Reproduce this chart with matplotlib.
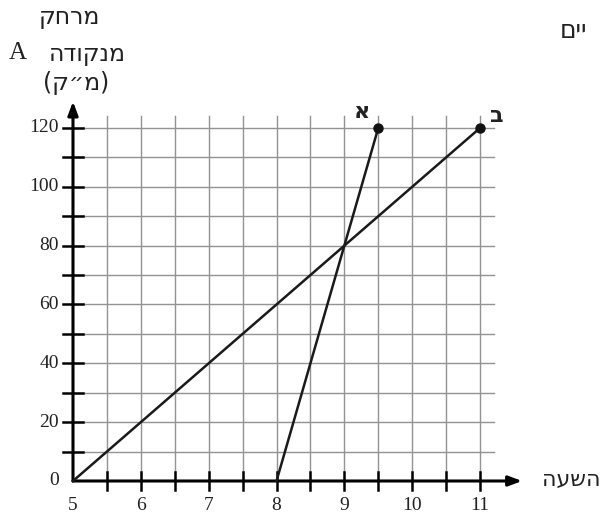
import matplotlib
matplotlib.use("Agg")
import matplotlib.pyplot as plt
import numpy as np

# hours and distance from point A for the two travellers
hours_a = [8, 9.5]
dist_a = [0, 120]
hours_b = [5, 11]
dist_b = [0, 120]

x_ticks = [5, 6, 7, 8, 9, 10, 11]
y_ticks = [0, 20, 40, 60, 80, 100, 120]
x_grid = np.arange(5.5, 11.01, 0.5)
y_grid = np.arange(10, 121, 10)


def rtl(s):
    # matplotlib lays text out left to right, so flip Hebrew words
    return s[::-1]


heb = ["DejaVu Sans"]
serif = ["Liberation Serif", "DejaVu Serif"]
ink = "#222222"

fig = plt.figure(figsize=(6.03, 5.20), dpi=100)
ax = fig.add_axes([0, 0, 1, 1])
ax.set_xlim(3.924, 12.813)
ax.set_ylim(-13.26, 163.51)
ax.axis("off")

grid_kw = dict(color="#939393", lw=1.0, zorder=1)
for gx in x_grid:
    ax.plot([gx, gx], [0, 124], **grid_kw)
for gy in y_grid:
    ax.plot([5, 11.2], [gy, gy], **grid_kw)

# axes with arrow heads
arrow = dict(arrowstyle="-|>,head_length=0.8,head_width=0.3",
             color="black", lw=2.2, shrinkA=0, shrinkB=0)
ax.annotate("", xy=(11.62, 0), xytext=(5, 0), arrowprops=arrow, zorder=3)
ax.annotate("", xy=(5, 129), xytext=(5, 0), arrowprops=arrow, zorder=3)

for tx in x_grid:
    ax.plot([tx, tx], [-3.1, 3.1], color="black", lw=1.8, zorder=3)
for ty in y_grid:
    ax.plot([4.85, 5.15], [ty, ty], color="black", lw=1.8, zorder=3)

for tx in x_ticks:
    ax.text(tx, -8.3, str(tx), ha="center", va="center",
            fontsize=14, family=serif, color=ink)
for ty in y_ticks:
    ax.text(4.79, ty, str(ty), ha="right", va="center",
            fontsize=14, family=serif, color=ink)

# the two travel lines
ax.plot(hours_a, dist_a, color="#1a1a1a", lw=1.8, zorder=4)
ax.plot(hours_b, dist_b, color="#1a1a1a", lw=1.8, zorder=4)
ax.plot([hours_a[-1], hours_b[-1]], [dist_a[-1], dist_b[-1]], "o",
        color="#111111", ms=6.5, zorder=5)

ax.text(9.246, 125.4, "א", ha="center", va="center",
        fontsize=16, family=heb, fontweight="bold", color=ink)
ax.text(11.251, 124.1, "ב", ha="center", va="center",
        fontsize=16, family=heb, fontweight="bold", color=ink)

# axis titles
ax.text(4.956, 157.7, rtl("מרחק"), ha="center", va="center",
        fontsize=17, family=heb, color=ink)
ax.text(5.207, 145.2, rtl("מנקודה"), ha="center", va="center",
        fontsize=17, family=heb, color=ink)
ax.text(4.189, 145.4, "A", ha="center", va="center",
        fontsize=18, family=serif, color=ink)
ax.text(5.044, 135.3, "(ק״מ)", ha="center", va="center",
        fontsize=17, family=heb, color=ink)
ax.text(12.342, 0.3, rtl("השעה"), ha="center", va="center",
        fontsize=16, family=heb, color=ink)
ax.text(12.18, 153.0, rtl("יים"), ha="left", va="center",
        fontsize=18, family=heb, color=ink)

fig.savefig("out.png", dpi=100)
